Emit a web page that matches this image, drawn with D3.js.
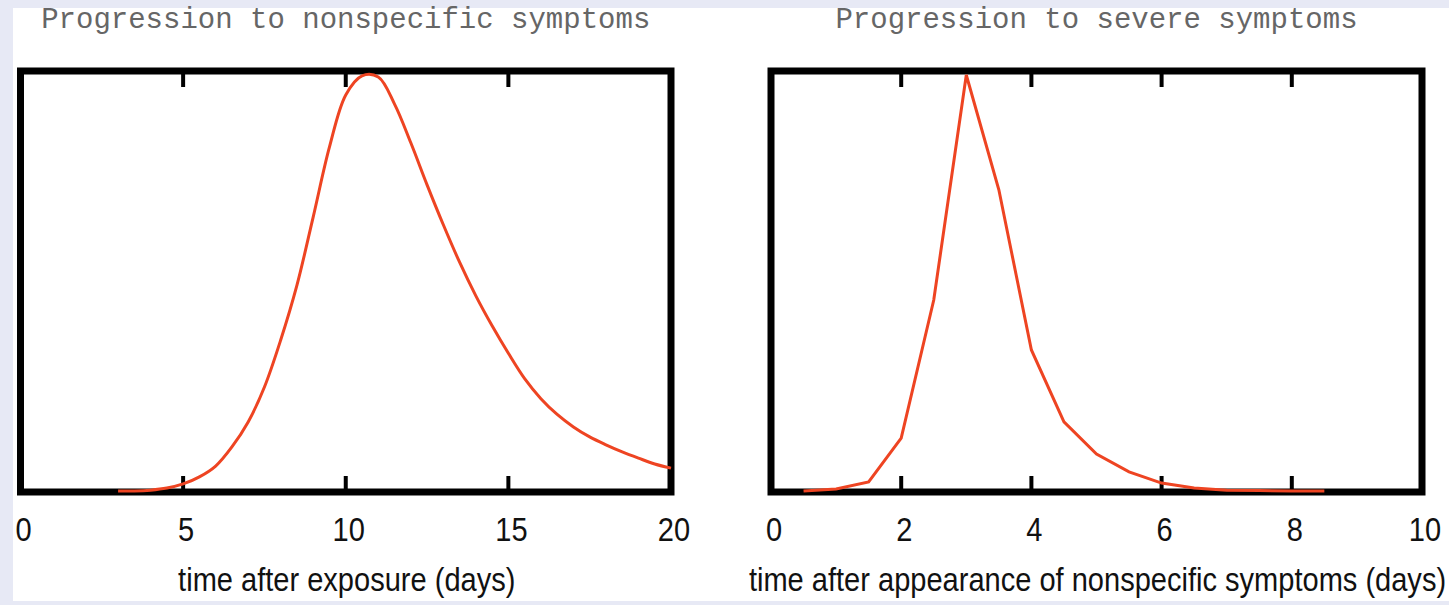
<!DOCTYPE html>
<html>
<head>
<meta charset="utf-8">
<script src="https://cdn.jsdelivr.net/npm/d3@7"></script>
<style>
  body { margin: 0; background: #e7e9f5; }
  svg { display: block; }
</style>
</head>
<body>
<div id="chart"></div>
<script>
// left panel: time after exposure (days) vs relative density
const exposureDays = [3, 3.5, 4, 4.5, 5, 5.5, 6, 6.5, 7, 7.5, 8, 8.5, 9, 9.5, 10, 10.5, 11, 11.5, 12, 12.5, 13, 13.5, 14, 14.5, 15, 15.5, 16, 16.5, 17, 17.5, 18, 18.5, 19, 19.5, 20];
const exposureValues = [0, 0, 0.002, 0.007, 0.017, 0.034, 0.06, 0.106, 0.166, 0.25, 0.363, 0.495, 0.659, 0.827, 0.952, 0.998, 0.995, 0.93, 0.837, 0.736, 0.64, 0.55, 0.469, 0.397, 0.331, 0.27, 0.222, 0.184, 0.154, 0.13, 0.111, 0.094, 0.079, 0.065, 0.055];
const exposureTicks = [0, 5, 10, 15, 20];

// right panel: time after appearance of nonspecific symptoms (days)
const severeDays = [0.5, 1, 1.5, 2, 2.5, 3, 3.5, 4, 4.5, 5, 5.5, 6, 6.5, 7, 7.5, 8, 8.5];
const severeValues = [0, 0.005, 0.022, 0.127, 0.459, 1.0, 0.724, 0.339, 0.166, 0.089, 0.046, 0.019, 0.007, 0.002, 0.001, 0, 0];
const severeTicks = [0, 2, 4, 6, 8, 10];

const panels = [
  { title: 'Progression to nonspecific symptoms', xlabel: 'time after exposure (days)',
    days: exposureDays, values: exposureValues, ticks: exposureTicks, domain: [0, 20],
    x0: 20.5, x1: 671, curve: d3.curveCatmullRom },
  { title: 'Progression to severe symptoms', xlabel: 'time after appearance of nonspecific symptoms (days)',
    days: severeDays, values: severeValues, ticks: severeTicks, domain: [0, 10],
    x0: 771, x1: 1422, curve: d3.curveLinear }
];

const width = 1449, height = 605;
const frameTop = 71, frameBottom = 492;
const narrow = 0.88; // squeeze Liberation Sans to look like a narrow Helvetica

const svg = d3.select('#chart').append('svg')
  .attr('width', width)
  .attr('height', height);

// white page area inside the lavender border
svg.append('rect')
  .attr('x', 13).attr('y', 8)
  .attr('width', width - 13).attr('height', 593)
  .attr('fill', '#fff');

const y = d3.scaleLinear().domain([0, 1]).range([491, 75]);

panels.forEach(p => {
  const x = d3.scaleLinear().domain(p.domain).range([p.x0, p.x1]);
  const g = svg.append('g');

  const pts = p.days.map((d, i) => ({ x: d, y: p.values[i] }));
  const line = d3.line()
    .x(d => x(d.x))
    .y(d => y(d.y))
    .curve(p.curve);

  // frame
  g.append('rect')
    .attr('x', p.x0).attr('y', frameTop)
    .attr('width', p.x1 - p.x0).attr('height', frameBottom - frameTop)
    .attr('fill', 'none')
    .attr('stroke', '#000')
    .attr('stroke-width', 7);

  // inward ticks on top and bottom (skip the ends)
  const inner = p.ticks.filter(t => t > p.domain[0] && t < p.domain[1]);
  g.selectAll('.tick-b').data(inner).enter().append('line')
    .attr('x1', d => x(d)).attr('x2', d => x(d))
    .attr('y1', frameBottom).attr('y2', frameBottom - 16)
    .attr('stroke', '#000').attr('stroke-width', 4);
  g.selectAll('.tick-t').data(inner).enter().append('line')
    .attr('x1', d => x(d)).attr('x2', d => x(d))
    .attr('y1', frameTop).attr('y2', frameTop + 16)
    .attr('stroke', '#000').attr('stroke-width', 4);

  g.append('path')
    .datum(pts)
    .attr('fill', 'none')
    .attr('stroke', '#ee4422')
    .attr('stroke-width', 3)
    .attr('d', line);

  // tick labels
  g.selectAll('.lbl').data(p.ticks).enter().append('text')
    .attr('transform', d => `translate(${x(d) + 3},541) scale(${narrow},1)`)
    .attr('text-anchor', 'middle')
    .attr('font-family', '"Liberation Sans", Arial, sans-serif')
    .attr('font-size', 33)
    .attr('fill', '#111')
    .text(d => d);

  g.append('text')
    .attr('transform', `translate(${(p.x0 + p.x1) / 2 + 1},591) scale(${narrow},1)`)
    .attr('text-anchor', 'middle')
    .attr('font-family', '"Liberation Sans", Arial, sans-serif')
    .attr('font-size', 33)
    .attr('fill', '#111')
    .text(p.xlabel);

  g.append('text')
    .attr('x', (p.x0 + p.x1) / 2)
    .attr('y', 28)
    .attr('text-anchor', 'middle')
    .attr('font-family', '"Liberation Mono", "Courier New", monospace')
    .attr('font-size', 29)
    .attr('fill', '#666')
    .text(p.title);
});
</script>
</body>
</html>
